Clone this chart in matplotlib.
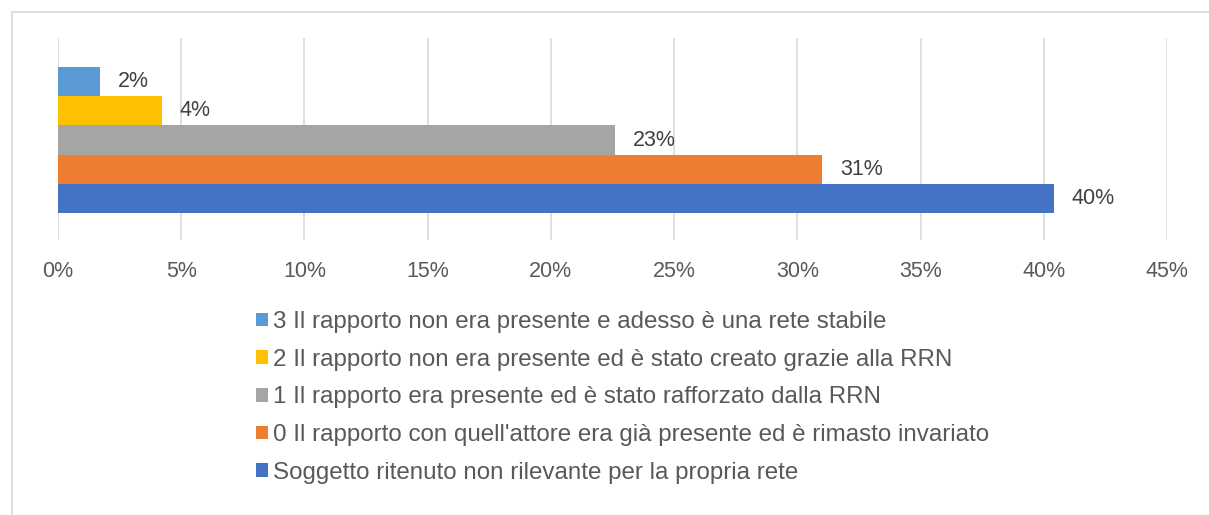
import matplotlib.pyplot as plt
from matplotlib.lines import Line2D

plt.rcParams["font.family"] = ["Liberation Sans", "DejaVu Sans"]

# bottom to top, as drawn
labels = [
    "Soggetto ritenuto non rilevante per la propria rete",
    "0 Il rapporto con quell'attore era già presente ed è rimasto invariato",
    "1 Il rapporto era presente ed è stato rafforzato dalla RRN",
    "2 Il rapporto non era presente ed è stato creato grazie alla RRN",
    "3 Il rapporto non era presente e adesso è una rete stabile",
]
values = [40.4, 31.0, 22.6, 4.2, 1.7]
colors = ["#4472C4", "#ED7D31", "#A5A5A5", "#FFC000", "#5B9BD5"]
xticks = [0, 5, 10, 15, 20, 25, 30, 35, 40, 45]

fig = plt.figure(figsize=(12.09, 5.15), dpi=100)
ax = fig.add_axes([58 / 1209, 1 - 240 / 515, (1167 - 58) / 1209, 202 / 515])

handles = []
for i, (lab, v, c) in enumerate(zip(labels, values, colors)):
    b = ax.barh(i, v, height=1.0, color=c, label=lab, zorder=3)
    handles.append(b)
    ax.annotate(f"{v:.0f}%", (v, i), xytext=(13, 0), textcoords="offset points",
                va="center", ha="left", fontsize=15.5, color="#404040")

ax.set_xlim(0, 45)
ax.set_ylim(-1.42, 5.49)
ax.set_xticks(xticks)
ax.set_xticklabels([f"{t}%" for t in xticks], fontsize=15.5, color="#595959")
ax.tick_params(axis="x", length=0, pad=15)
ax.set_yticks([])
ax.grid(True, axis="x", color="#D9D9D9", linewidth=1.2, zorder=0)
for s in ax.spines.values():
    s.set_visible(False)

leg = fig.legend(handles[::-1], labels[::-1], loc="upper left",
                 bbox_to_anchor=(256 / 1209, 1 - 311 / 515), frameon=False,
                 fontsize=17.4, labelcolor="#595959", handlelength=0.5,
                 handleheight=0.5, handletextpad=0.2, labelspacing=0.65,
                 borderpad=0, borderaxespad=0)

# outer chart frame (top and left edges visible)
fig.add_artist(Line2D([12 / 1209, 1], [1 - 12 / 515] * 2, color="#D9D9D9", lw=1.2))
fig.add_artist(Line2D([12 / 1209] * 2, [0, 1 - 12 / 515], color="#D9D9D9", lw=1.2))

fig.savefig("out.png", dpi=100)
